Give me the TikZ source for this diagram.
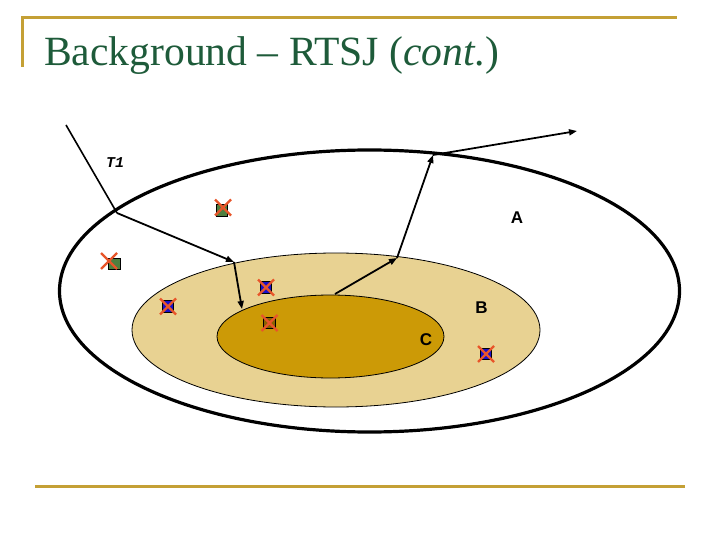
\documentclass[tikz,border=0pt]{standalone}
\usepackage{fontspec}
\setmainfont{Liberation Serif}
\newfontfamily\monofam{Liberation Mono}
\newfontfamily\sansfam{Liberation Sans}
\usetikzlibrary{arrows.meta}
\definecolor{goldline}{HTML}{C4A035}
\definecolor{titlegreen}{HTML}{1E5B3A}
\definecolor{regionB}{HTML}{E8D292}
\definecolor{regionC}{HTML}{CC9A06}
\definecolor{sqgreen}{HTML}{4F7F3F}
\definecolor{sqblue}{HTML}{1A10C8}
\definecolor{sqbrown}{HTML}{8C6200}
\definecolor{xred}{HTML}{E8552A}
\tikzset{
  rule/.style={goldline, line width=3pt},
  arr/.style={black, line width=1.8pt, -{Triangle[length=8pt,width=6pt]}},
  plainline/.style={black, line width=1.6pt},
  sq/.style={draw=black, line width=0.9pt, minimum size=11.5pt, inner sep=0pt, outer sep=0pt},
  xline/.style={xred, line width=2.4pt},
  lbl/.style={font=\sansfam\bfseries\fontsize{17}{17}\selectfont, inner sep=0pt},
}
\newcommand\redcross[1]{\draw[xline] (#1) ++(-8,-8) -- ++(16,16) (#1) ++(-8,8) -- ++(16,-16);}
\begin{document}
\begin{tikzpicture}[x=1pt,y=-1pt]
\useasboundingbox (0,0) rectangle (720,540);
\fill[white] (0,0) rectangle (720,540);
% header and footer rules
\draw[rule] (22,18) -- (677,18);
\draw[rule] (22,16.5) -- (22,67);
\draw[rule] (35,486) -- (685,486);
\node[anchor=base west, inner sep=0pt, text=titlegreen, font=\fontsize{41.6}{50}\selectfont] (title) at (44,66) {Background -- RTSJ (\textit{cont.})};
% regions
\draw[black, line width=3.2pt] (369.5,291) ellipse [x radius=310, y radius=141];
\draw[black, line width=0.8pt, fill=regionB] (336,330) ellipse [x radius=204, y radius=77];
\draw[black, line width=0.8pt, fill=regionC] (330.5,336.5) ellipse [x radius=113.5, y radius=41.5];
% labels
\node[font=\monofam\bfseries\itshape\fontsize{15}{15}\selectfont, inner sep=0pt] (T1) at (115,163) {T1};
\node[lbl] (labA) at (517,218) {A};
\node[lbl] (labB) at (481.5,307.5) {B};
\node[lbl] (labC) at (426,340) {C};
% path points
\coordinate (p0) at (66,125);
\coordinate (p1) at (117,213);
\coordinate (p2) at (234,262);
\coordinate (p3) at (242,309);
\coordinate (q0) at (335,294);
\coordinate (q1) at (397,258);
\coordinate (q2) at (433,155);
\coordinate (q3) at (577,131);
\draw[plainline] (p0) -- (p1);
\draw[arr] (p1) -- (p2);
\draw[arr] (p2) -- (p3);
\draw[arr] (q0) -- (q1);
\draw[arr] (q1) -- (q2);
\draw[arr] (q2) -- (q3);
% markers
\node[sq, fill=sqgreen] (g1) at (222,210.5) {};
\coordinate (xg1) at (223,207.5); \redcross{xg1}
\node[sq, fill=sqgreen] (g2) at (114.5,264) {};
\coordinate (xg2) at (109,261); \redcross{xg2}
\node[sq, fill=sqblue] (b1) at (168,306.5) {};
\redcross{b1}
\node[sq, fill=sqblue] (b2) at (266,287.5) {};
\redcross{b2}
\node[sq, fill=sqblue] (b3) at (486,354) {};
\redcross{b3}
\node[sq, fill=sqbrown] (c1) at (269.5,323) {};
\redcross{c1}
\end{tikzpicture}
\end{document}
